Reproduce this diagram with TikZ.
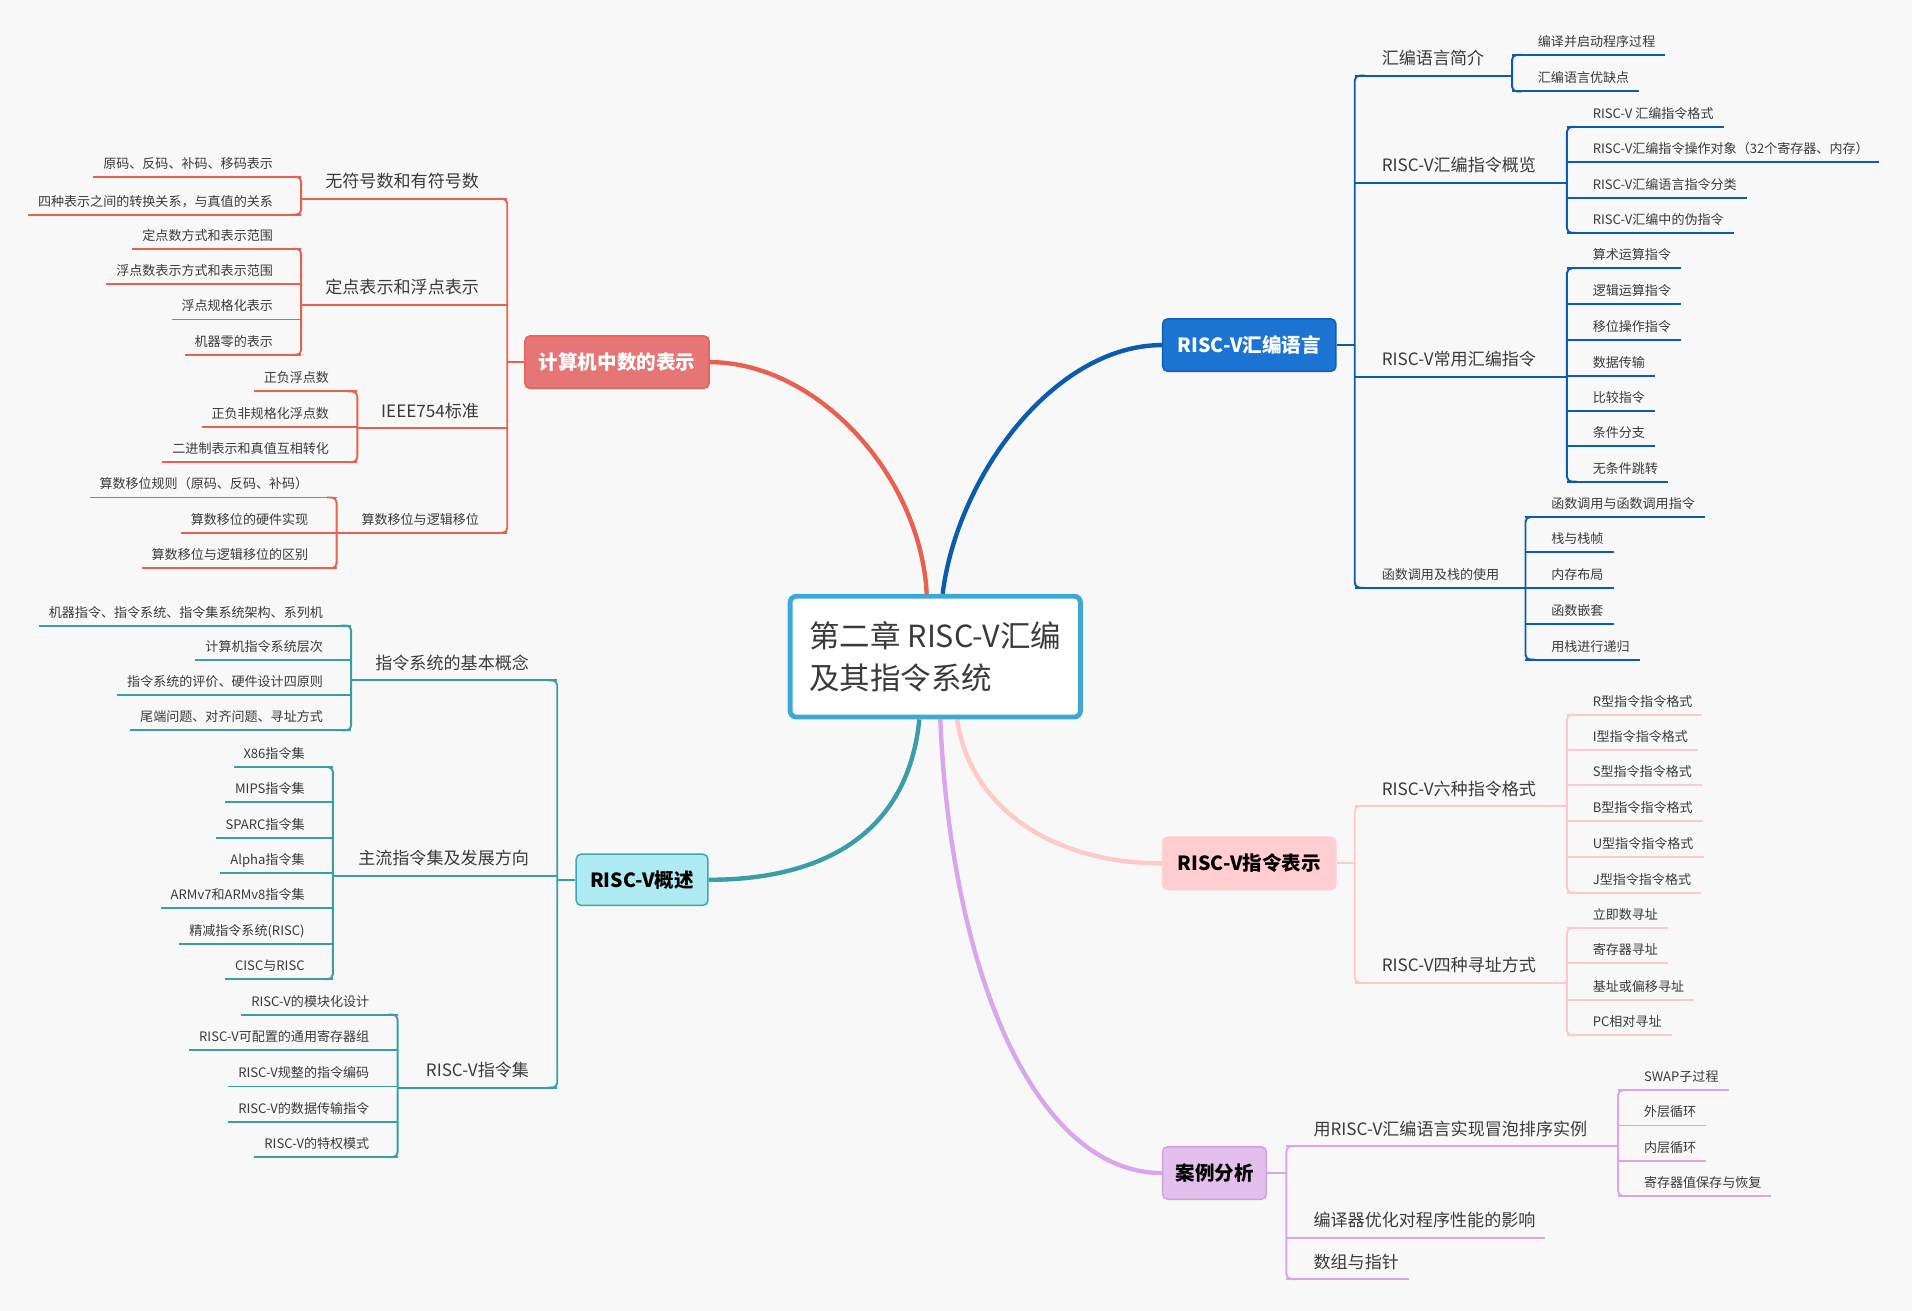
\documentclass[tikz,border=0pt]{standalone}
\usepackage{fontspec}
\setmainfont{Noto Sans CJK SC}
\usetikzlibrary{calc}
\definecolor{bgc}{HTML}{F8F8F8}
\definecolor{txt}{HTML}{3A3A3A}
\definecolor{rootc}{HTML}{3DA9D3}
\definecolor{redl}{HTML}{E8604F}
\definecolor{Afill}{HTML}{E67575}
\definecolor{Aborder}{HTML}{E8615A}
\definecolor{bluel}{HTML}{0B5CAD}
\definecolor{Bfill}{HTML}{1B74D2}
\definecolor{Bborder}{HTML}{0E5FB5}
\definecolor{teall}{HTML}{3A9EA6}
\definecolor{Cfill}{HTML}{AEEAF2}
\definecolor{Cborder}{HTML}{3FA7AF}
\definecolor{pinkl}{HTML}{FFC9C9}
\definecolor{Dfill}{HTML}{FFCDD2}
\definecolor{purl}{HTML}{D8A6EA}
\definecolor{Efill}{HTML}{E2C0EB}
\definecolor{Eborder}{HTML}{CFA0E0}
\pgfdeclarelayer{bglayer}
\pgfdeclarelayer{edgelayer}
\pgfsetlayers{bglayer,edgelayer,main}
\tikzset{
  lt3/.style={anchor=base east, inner xsep=8pt, inner ysep=0pt, text=txt, font=\fontsize{10.7}{12}\selectfont},
  rt3/.style={anchor=base west, inner xsep=8pt, inner ysep=0pt, text=txt, font=\fontsize{10.7}{12}\selectfont},
  big2/.style={font=\fontsize{14}{16}\selectfont},
  small2/.style={font=\fontsize{10.7}{12}\selectfont},
  lt2/.style={anchor=base east, inner xsep=8pt, inner ysep=0pt, text=txt},
  rt2/.style={anchor=base west, inner xsep=8pt, inner ysep=0pt, text=txt},
  ul/.style={line width=1.6pt},
  cur/.style={redl},
  mainbox/.style={rectangle, rounded corners=4pt, line width=1.2pt, inner sep=0pt,
    font=\bfseries\fontsize{16}{18}\selectfont},
  maincurve/.style={line width=3.6pt},
}
% left leaf: name, V, y, text
\newcommand\mmLL[4]{%
  \node[lt3] (#1) at (#2-15,#3-7) {#4};
  \draw[ul,cur] (#1.west |- 0,#3) -- (#2,#3);}
% right leaf: name, V, y, text
\newcommand\mmLR[4]{%
  \node[rt3] (#1) at (#2+13,#3-7) {#4};
  \draw[ul,cur] (#2,#3) -- (#1.east |- 0,#3);}
% left topic: name, Vparent, Vchild, y, text, fontstyle, baseline offset
\newcommand\mmTL[7]{%
  \node[lt2,#6] (#1) at (#2-15,#4-#7) {#5};
  \draw[ul,cur] (#3,#4) -- (#2,#4);}
% right topic: name, Vparent, Vchild, y, text, fontstyle, baseline offset
\newcommand\mmTR[7]{%
  \node[rt2,#6] (#1) at (#2+14,#4-#7) {#5};
  \draw[ul,cur] (#2,#4) -- (#3,#4);}
% right topic without children: name, Vparent, y, text
\newcommand\mmTRend[4]{%
  \node[rt2,big2] (#1) at (#2+14,#3-9) {#4};
  \draw[ul,cur] (#2,#3) -- (#1.east |- 0,#3);}
% vertical branch lines
\newcommand\mmBL[3]{\draw[ul,cur,rounded corners=4pt] (#1-8,#2) -- (#1,#2) -- (#1,#3) -- (#1-8,#3);}
\newcommand\mmBR[3]{\draw[ul,cur,rounded corners=4pt] (#1+8,#2) -- (#1,#2) -- (#1,#3) -- (#1+8,#3);}

\begin{document}
\begin{tikzpicture}[x=1pt,y=-1pt]
\useasboundingbox (0,0) rectangle (1568,1075);
\begin{pgfonlayer}{bglayer}
\fill[bgc] (0,0) rectangle (1568,1075);
\end{pgfonlayer}

% root
\node[draw=rootc, line width=4pt, fill=white, rounded corners=5pt, minimum width=238pt,
  minimum height=99pt, align=left, text=txt, font=\fontsize{25}{35}\selectfont]
  (root) at (767,538.5) {第二章 RISC-V汇编\\及其指令系统};

% main topics
\node[mainbox, fill=Afill, draw=Aborder, text=white, minimum width=151pt, minimum height=43pt] (A) at (506,297) {计算机中数的表示};
\node[mainbox, fill=Bfill, draw=Bborder, text=white, minimum width=142pt, minimum height=43pt] (B) at (1024.5,283) {RISC-V汇编语言};
\node[mainbox, fill=Cfill, draw=Cborder, text=black, minimum width=108pt, minimum height=42pt] (C) at (526.5,721.5) {RISC-V概述};
\node[mainbox, fill=Dfill, draw=Dfill, text=black, minimum width=142pt, minimum height=43pt] (D) at (1024.5,708) {RISC-V指令表示};
\node[mainbox, fill=Efill, draw=Eborder, text=black, minimum width=85pt, minimum height=43pt] (E) at (996,962) {案例分析};

\begin{pgfonlayer}{edgelayer}
\draw[maincurve, redl] (A.east) .. controls (670,297) and (755,390) .. ($(root.north west)!0.471!(root.north east)$);
\draw[maincurve, bluel] ($(root.north west)!0.525!(root.north east)$) .. controls (785,390) and (865,283) .. (B.west);
\draw[maincurve, teall] ($(root.south west)!0.446!(root.south east)$) .. controls (745,680) and (680,721.5) .. (C.east);
\draw[maincurve, pinkl] ($(root.south west)!0.574!(root.south east)$) .. controls (795,660) and (860,708) .. (D.west);
\draw[maincurve, purl] ($(root.south west)!0.517!(root.south east)$) .. controls (780,800) and (850,962) .. (E.west);
\end{pgfonlayer}

% ===== Group A =====
\tikzset{cur/.style={redl}}
\draw[ul,cur] (A.west) -- (A.west -| 416,0);
\mmBL{416}{163}{437}
\mmTL{a1}{416}{247}{163}{无符号数和有符号数}{big2}{9}
\mmBL{247}{145}{176}
\mmLL{a11}{247}{145}{原码、反码、补码、移码表示}
\mmLL{a12}{247}{176}{四种表示之间的转换关系，与真值的关系}
\mmTL{a2}{416}{247}{250}{定点表示和浮点表示}{big2}{9}
\mmBL{247}{204}{291}
\mmLL{a21}{247}{204}{定点数方式和表示范围}
\mmLL{a22}{247}{233}{浮点数表示方式和表示范围}
\mmLL{a23}{247}{262}{浮点规格化表示}
\mmLL{a24}{247}{291}{机器零的表示}
\mmTL{a3}{416}{293}{351}{IEEE754标准}{big2}{9}
\mmBL{293}{321}{379}
\mmLL{a31}{293}{321}{正负浮点数}
\mmLL{a32}{293}{350}{正负非规格化浮点数}
\mmLL{a33}{293}{379}{二进制表示和真值互相转化}
\mmTL{a4}{416}{276}{437}{算数移位与逻辑移位}{small2}{7}
\mmBL{276}{408}{466}
\mmLL{a41}{276}{408}{算数移位规则（原码、反码、补码）}
\mmLL{a42}{276}{437}{算数移位的硬件实现}
\mmLL{a43}{276}{466}{算数移位与逻辑移位的区别}

% ===== Group C =====
\tikzset{cur/.style={teall}}
\draw[ul,cur] (C.west) -- (C.west -| 457,0);
\mmBL{457}{558}{892}
\mmTL{c1}{457}{288}{558}{指令系统的基本概念}{big2}{9}
\mmBL{288}{513}{599}
\mmLL{c11}{288}{513}{机器指令、指令系统、指令集系统架构、系列机}
\mmLL{c12}{288}{541}{计算机指令系统层次}
\mmLL{c13}{288}{570}{指令系统的评价、硬件设计四原则}
\mmLL{c14}{288}{599}{尾端问题、对齐问题、寻址方式}
\mmTL{c2}{457}{273}{718}{主流指令集及发展方向}{big2}{9}
\mmBL{273}{629}{803}
\mmLL{c21}{273}{629}{X86指令集}
\mmLL{c22}{273}{658}{MIPS指令集}
\mmLL{c23}{273}{687}{SPARC指令集}
\mmLL{c24}{273}{716}{Alpha指令集}
\mmLL{c25}{273}{745}{ARMv7和ARMv8指令集}
\mmLL{c26}{273}{774}{精减指令系统(RISC)}
\mmLL{c27}{273}{803}{CISC与RISC}
\mmTL{c3}{457}{326}{892}{RISC-V指令集}{big2}{9}
\mmBL{326}{832}{949}
\mmLL{c31}{326}{832}{RISC-V的模块化设计}
\mmLL{c32}{326}{861}{RISC-V可配置的通用寄存器组}
\mmLL{c33}{326}{891}{RISC-V规整的指令编码}
\mmLL{c34}{326}{920}{RISC-V的数据传输指令}
\mmLL{c35}{326}{949}{RISC-V的特权模式}

% ===== Group B =====
\tikzset{cur/.style={bluel}}
\draw[ul,cur] (B.east) -- (B.east -| 1111,0);
\mmBR{1111}{62}{482}
\mmTR{b1}{1111}{1240}{62}{汇编语言简介}{big2}{9}
\mmBR{1240}{45}{75}
\mmLR{b11}{1240}{45}{编译并启动程序过程}
\mmLR{b12}{1240}{75}{汇编语言优缺点}
\mmTR{b2}{1111}{1285}{150}{RISC-V汇编指令概览}{big2}{9}
\mmBR{1285}{104}{191}
\mmLR{b21}{1285}{104}{RISC-V 汇编指令格式}
\mmLR{b22}{1285}{133}{RISC-V汇编指令操作对象（32个寄存器、内存）}
\mmLR{b23}{1285}{162}{RISC-V汇编语言指令分类}
\mmLR{b24}{1285}{191}{RISC-V汇编中的伪指令}
\mmTR{b3}{1111}{1285}{309}{RISC-V常用汇编指令}{big2}{9}
\mmBR{1285}{220}{395}
\mmLR{b31}{1285}{220}{算术运算指令}
\mmLR{b32}{1285}{249}{逻辑运算指令}
\mmLR{b33}{1285}{279}{移位操作指令}
\mmLR{b34}{1285}{308}{数据传输}
\mmLR{b35}{1285}{337}{比较指令}
\mmLR{b36}{1285}{366}{条件分支}
\mmLR{b37}{1285}{395}{无条件跳转}
\mmTR{b4}{1111}{1251}{482}{函数调用及栈的使用}{small2}{7}
\mmBR{1251}{424}{541}
\mmLR{b41}{1251}{424}{函数调用与函数调用指令}
\mmLR{b42}{1251}{453}{栈与栈帧}
\mmLR{b43}{1251}{482}{内存布局}
\mmLR{b44}{1251}{512}{函数嵌套}
\mmLR{b45}{1251}{541}{用栈进行递归}

% ===== Group D =====
\tikzset{cur/.style={pinkl}}
\draw[ul,cur] (D.east) -- (D.east -| 1111,0);
\mmBR{1111}{661}{806}
\mmTR{d1}{1111}{1285}{661}{RISC-V六种指令格式}{big2}{9}
\mmBR{1285}{586}{732}
\mmLR{d11}{1285}{586}{R型指令指令格式}
\mmLR{d12}{1285}{615}{I型指令指令格式}
\mmLR{d13}{1285}{644}{S型指令指令格式}
\mmLR{d14}{1285}{673}{B型指令指令格式}
\mmLR{d15}{1285}{703}{U型指令指令格式}
\mmLR{d16}{1285}{732}{J型指令指令格式}
\mmTR{d2}{1111}{1285}{806}{RISC-V四种寻址方式}{big2}{9}
\mmBR{1285}{761}{849}
\mmLR{d21}{1285}{761}{立即数寻址}
\mmLR{d22}{1285}{790}{寄存器寻址}
\mmLR{d23}{1285}{820}{基址或偏移寻址}
\mmLR{d24}{1285}{849}{PC相对寻址}

% ===== Group E =====
\tikzset{cur/.style={purl}}
\draw[ul,cur] (E.east) -- (E.east -| 1055,0);
\mmBR{1055}{940}{1049}
\mmTR{e1}{1055}{1327}{940}{用RISC-V汇编语言实现冒泡排序实例}{big2}{9}
\mmBR{1327}{894}{981}
\mmLR{e11}{1327}{894}{SWAP子过程}
\mmLR{e12}{1327}{923}{外层循环}
\mmLR{e13}{1327}{952}{内层循环}
\mmLR{e14}{1327}{981}{寄存器值保存与恢复}
\mmTRend{e2}{1055}{1015}{编译器优化对程序性能的影响}
\mmTRend{e3}{1055}{1049}{数组与指针}
\end{tikzpicture}
\end{document}
